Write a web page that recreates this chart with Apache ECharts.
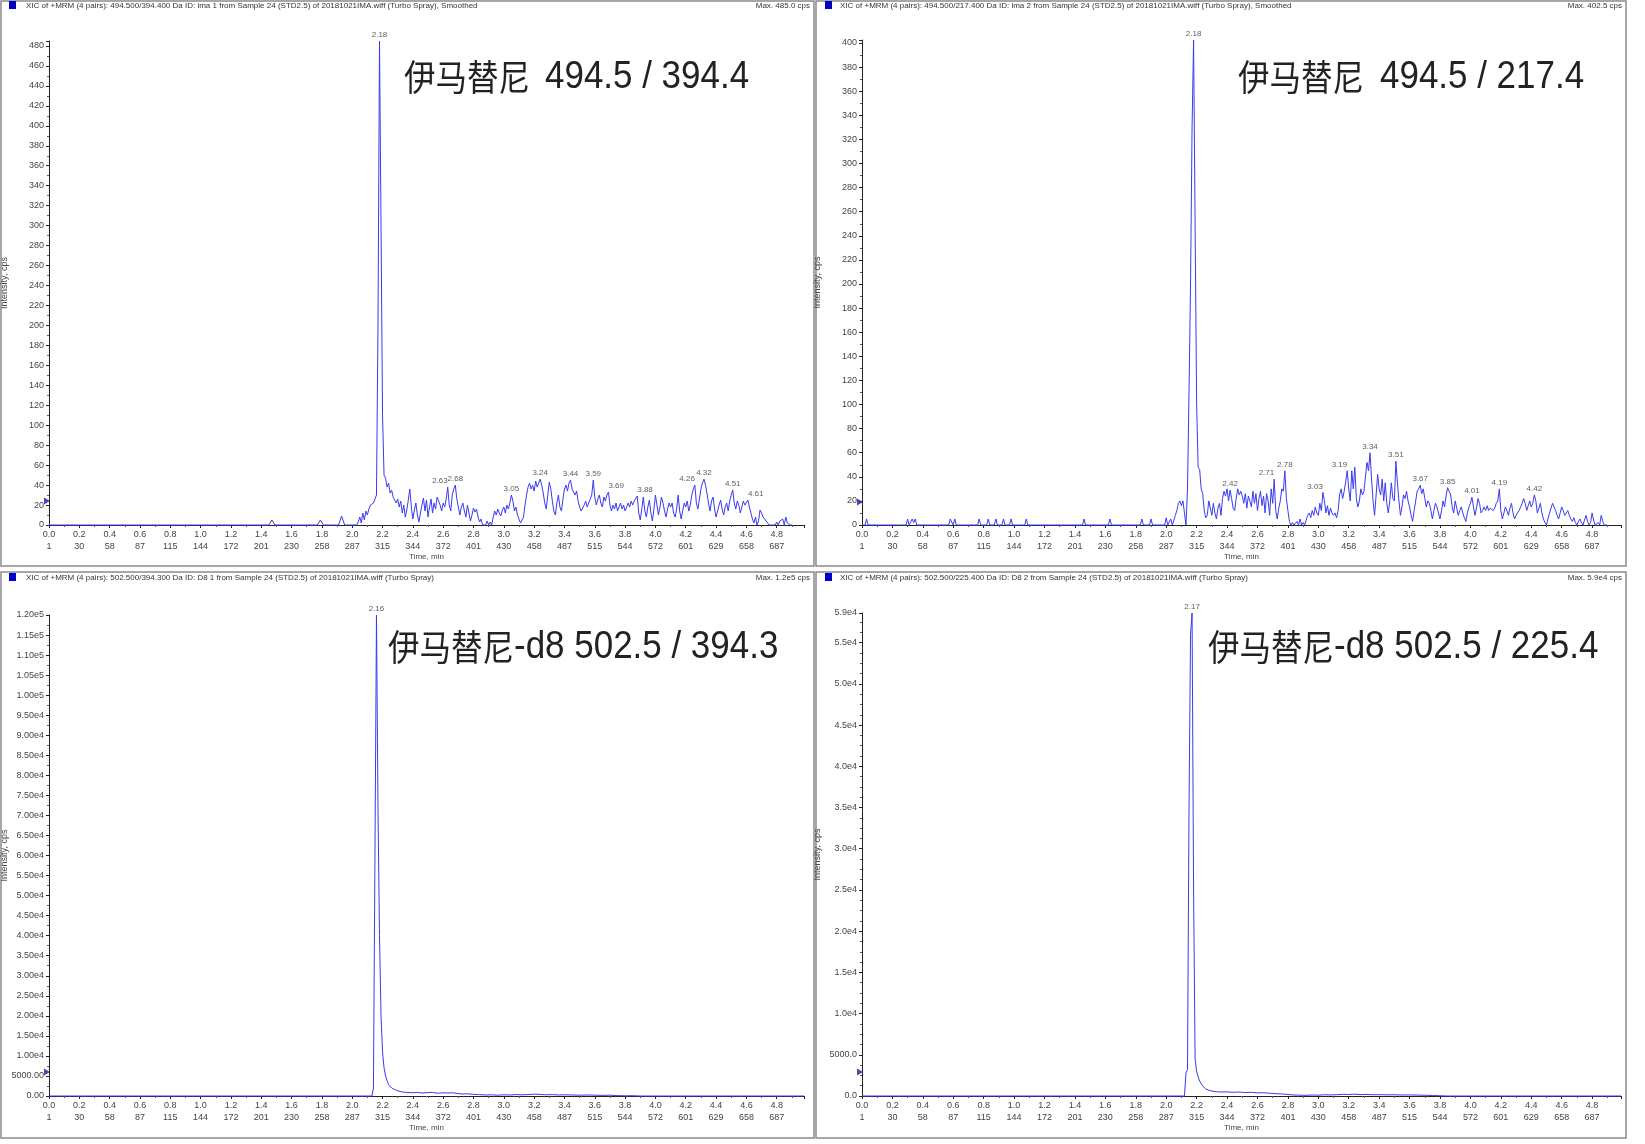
<!DOCTYPE html>
<html><head><meta charset="utf-8">
<script src="https://cdn.jsdelivr.net/npm/echarts/dist/echarts.min.js"></script>
<style>html,body{margin:0;padding:0;background:#fff}#chart{width:1645px;height:1144px}</style>
</head><body><div id="chart"></div>
<script>
// ---------- tick labels ----------
const TIME_LABELS = ['0.0','0.2','0.4','0.6','0.8','1.0','1.2','1.4','1.6','1.8','2.0','2.2','2.4','2.6','2.8','3.0','3.2','3.4','3.6','3.8','4.0','4.2','4.4','4.6','4.8'];
const CYCLE_LABELS = ['1','30','58','87','115','144','172','201','230','258','287','315','344','372','401','430','458','487','515','544','572','601','629','658','687'];

// ---------- texts ----------
const HEADERS = [
  'XIC of +MRM (4 pairs): 494.500/394.400 Da ID: ima 1 from Sample 24 (STD2.5) of 20181021IMA.wiff (Turbo Spray), Smoothed',
  'XIC of +MRM (4 pairs): 494.500/217.400 Da ID: ima 2 from Sample 24 (STD2.5) of 20181021IMA.wiff (Turbo Spray), Smoothed',
  'XIC of +MRM (4 pairs): 502.500/394.300 Da ID: D8 1 from Sample 24 (STD2.5) of 20181021IMA.wiff (Turbo Spray)',
  'XIC of +MRM (4 pairs): 502.500/225.400 Da ID: D8 2 from Sample 24 (STD2.5) of 20181021IMA.wiff (Turbo Spray)'
];
const MAX_LABELS = ['Max. 485.0 cps', 'Max. 402.5 cps', 'Max. 1.2e5 cps', 'Max. 5.9e4 cps'];
const TITLE_CJK = ['伊马替尼', '伊马替尼', '伊马替尼', '伊马替尼'];
const TITLE_REST = ['494.5 / 394.4', '494.5 / 217.4', '-d8 502.5 / 394.3', '-d8 502.5 / 225.4'];
const Y_NAME = 'Intensity, cps';
const X_NAME = 'Time, min';

// ---------- data: top-left (494.5/394.4) ----------
const TL_PRE_T = [0, 1.45, 1.47, 1.49, 1.77, 1.79, 1.81, 1.91, 1.93, 1.95, 1.99];
const TL_PRE_V = [0, 0, 5, 0, 0, 5, 0, 0, 9, 0, 0];
// 0.01-min scans from 2.00 to 4.90
const TL_FINE_V = [
  0, 0, 0, 0, 3, 8, 2, 12, 5, 14,
  10, 16, 20, 18, 22, 24, 30, 200, 485, 300,
  110, 50, 47, 38, 42, 32, 35, 28, 30, 22,
  26, 18, 24, 12, 20, 8, 15, 25, 36, 18,
  6, 15, 22, 10, 3, 12, 20, 27, 14, 25,
  8, 18, 26, 12, 22, 16, 28, 24, 20, 14,
  22, 18, 26, 38, 20, 14, 30, 36, 40, 26,
  18, 10, 18, 22, 14, 8, 20, 12, 4, 10,
  17, 13, 16, 8, 3, 6, 0, 2, 0, 4,
  0, 3, 0, 8, 14, 10, 16, 12, 9, 15,
  18, 12, 20, 16, 22, 30, 24, 14, 18, 10,
  6, 2, 0, 8, 20, 30, 38, 42, 36, 40,
  34, 44, 38, 42, 46, 40, 32, 22, 16, 30,
  43, 36, 24, 14, 10, 22, 30, 18, 14, 26,
  36, 40, 34, 42, 45, 36, 38, 30, 34, 24,
  18, 14, 16, 20, 24, 18, 22, 26, 30, 45,
  28, 20, 26, 30, 22, 18, 28, 24, 30, 33,
  20, 14, 20, 16, 22, 14, 18, 22, 16, 20,
  14, 18, 22, 18, 24, 20, 24, 26, 29, 12,
  5, 16, 28, 14, 8, 18, 25, 12, 4, 16,
  30, 20, 10, 18, 28, 22, 14, 8, 16, 22,
  18, 22, 12, 8, 16, 30, 14, 6, 14, 22,
  18, 24, 14, 20, 30, 36, 40, 22, 16, 26,
  36, 42, 46, 40, 32, 22, 14, 24, 28, 16,
  8, 14, 20, 25, 16, 10, 18, 22, 14, 24,
  30, 35, 22, 16, 24, 20, 12, 18, 24, 20,
  22, 25, 18, 12, 6, 2, 8, 0, 4, 15,
  12, 8, 10, 4, 6, 0, 2, 0, 0, 0,
  3, 0, 4, 2, 6, 0, 8, 2, 0, 0,
  0
];
const TL_PEAKS = [2.18, 2.63, 2.68, 3.05, 3.24, 3.44, 3.59, 3.69, 3.88, 4.26, 4.32, 4.51, 4.61];
const TL_MARKER = 24;

// ---------- data: top-right (494.5/217.4) ----------
const TR_PRE_T = [0, 0.02, 0.03, 0.04, 0.29, 0.30, 0.31, 0.32, 0.33, 0.34,
  0.35, 0.36, 0.57, 0.58, 0.59, 0.60, 0.61, 0.62, 0.76, 0.77,
  0.78, 0.82, 0.83, 0.84, 0.87, 0.88, 0.89, 0.92, 0.93, 0.94,
  0.97, 0.98, 0.99, 1.07, 1.08, 1.09, 1.45, 1.46, 1.47, 1.62,
  1.63, 1.64, 1.83, 1.84, 1.85, 1.89, 1.90, 1.91, 1.99];
const TR_PRE_V = [0, 0, 5, 0, 0, 5, 0, 0, 5, 2,
  5, 0, 0, 5, 5, 0, 5, 0, 0, 5,
  0, 0, 5, 0, 0, 5, 0, 0, 5, 0,
  0, 5, 0, 0, 5, 0, 0, 5, 0, 0,
  5, 0, 0, 5, 0, 0, 5, 0, 0];
const TR_FINE_V = [
  6, 0, 0, 5, 0, 0, 8, 12, 18, 20,
  16, 20, 10, 0, 30, 110, 200, 330, 402.5, 250,
  100, 48, 46, 30, 26, 12, 6, 8, 20, 14,
  8, 18, 10, 5, 14, 18, 8, 22, 28, 24,
  30, 20, 29, 22, 14, 12, 22, 30, 25, 28,
  24, 18, 26, 14, 24, 20, 15, 28, 18, 26,
  12, 22, 28, 16, 24, 10, 26, 20, 8, 30,
  18, 38, 12, 5, 14, 20, 30, 28, 45, 22,
  12, 3, 0, 2, 0, 0, 3, 0, 5, 0,
  2, 0, 4, 8, 10, 6, 12, 8, 15, 10,
  8, 18, 12, 27, 20, 10, 16, 8, 14, 10,
  8, 10, 6, 12, 25, 30, 22, 28, 36, 45,
  30, 20, 45, 30, 48, 22, 15, 20, 30, 25,
  28, 40, 52, 45, 60, 38, 20, 8, 25, 42,
  30, 25, 38, 20, 35, 18, 10, 20, 35, 22,
  20, 53, 35, 20, 8, 15, 25, 22, 28, 20,
  15, 8, 3, 12, 20, 28, 30, 33, 26, 30,
  22, 15, 20, 18, 12, 5, 12, 18, 15, 10,
  5, 12, 20, 15, 24, 31, 28, 25, 15, 10,
  20, 14, 8, 12, 15, 10, 6, 3, 10, 15,
  18, 23, 15, 8, 14, 22, 18, 10, 12, 15,
  12, 16, 12, 14, 15, 12, 14, 18, 20, 30,
  12, 5, 10, 15, 12, 8, 14, 18, 10, 5,
  8, 10, 12, 15, 18, 22, 18, 12, 16, 20,
  15, 18, 25, 20, 10, 14, 18, 10, 5, 2,
  0, 5, 10, 14, 18, 15, 12, 8, 5, 10,
  15, 12, 8, 10, 12, 8, 5, 3, 6, 2,
  0, 3, 5, 2, 0, 4, 8, 3, 0, 2,
  10, 4, 0, 0, 2, 0, 8, 3, 0, 0,
  0
];
const TR_PEAKS = [2.18, 2.42, 2.71, 2.78, 3.03, 3.19, 3.34, 3.51, 3.67, 3.85, 4.01, 4.19, 4.42];
const TR_MARKER = 19;

// ---------- data: bottom-left (d8 502.5/394.3) ----------
const BL_T = [0, 2.13, 2.14, 2.15, 2.16, 2.17, 2.18, 2.19, 2.20, 2.21,
  2.22, 2.23, 2.24, 2.26, 2.28, 2.30, 2.33, 2.36, 2.40, 2.43,
  2.46, 2.50, 2.53, 2.56, 2.60, 2.63, 2.66, 2.70, 2.73, 2.76,
  2.80, 2.84, 2.88, 2.92, 2.96, 3.00, 3.04, 3.08, 3.12, 3.16,
  3.20, 3.24, 3.28, 3.32, 3.36, 3.40, 3.45, 3.50, 3.55, 3.60,
  3.65, 3.70, 3.75, 3.80, 3.85, 3.90, 4.98];
const BL_V = [0, 0, 2000, 60000, 120000, 72000, 40000, 20000, 11000, 7000,
  5000, 3800, 2800, 2000, 1600, 1300, 1000, 900, 800, 900,
  750, 850, 900, 700, 800, 750, 800, 600, 500, 550,
  400, 350, 250, 300, 200, 300, 250, 350, 300, 350,
  450, 400, 300, 350, 250, 300, 250, 200, 250, 200,
  150, 200, 100, 50, 80, 0, 0];
const BL_PEAKS = [2.16];
const BL_MARKER = 6000;

// ---------- data: bottom-right (d8 502.5/225.4) ----------
const BR_T = [0, 2.12, 2.13, 2.14, 2.15, 2.16, 2.17, 2.18, 2.19, 2.20,
  2.21, 2.22, 2.24, 2.26, 2.28, 2.30, 2.33, 2.36, 2.40, 2.44,
  2.48, 2.52, 2.56, 2.60, 2.64, 2.68, 2.72, 2.76, 2.80, 2.84,
  2.88, 2.92, 2.96, 3.00, 3.04, 3.08, 3.12, 3.16, 3.20, 3.24,
  3.28, 3.32, 3.36, 3.40, 3.45, 3.50, 3.55, 3.60, 3.65, 3.70,
  3.75, 3.80, 3.85, 3.90, 4.57, 4.58, 4.59, 4.99];
const BR_V = [0, 0, 2800, 3200, 35000, 56000, 58600, 25000, 4500, 3000,
  2300, 1800, 1200, 850, 700, 600, 520, 480, 500, 450,
  480, 420, 450, 380, 400, 330, 280, 250, 180, 120,
  100, 80, 120, 100, 150, 130, 160, 200, 180, 220,
  170, 190, 150, 160, 140, 150, 120, 130, 110, 90,
  60, 30, 0, 0, 0, 60, 0, 0];
const BR_PEAKS = [2.17];
const BR_MARKER = 2900;

// ---------- helpers ----------
const FINE_START = 2.00, FINE_STEP = 0.01;
function withFine(preT, preV, fineV) {
  const out = preT.map((t, i) => [t, preV[i]]);
  fineV.forEach((v, i) => out.push([+(FINE_START + i * FINE_STEP).toFixed(2), v]));
  return out;
}
function pairs(ts, vs) { const n = Math.min(ts.length, vs.length); const o = []; for (let i = 0; i < n; i++) o.push([ts[i], vs[i]]); return o; }
function nearest(data, t) { let b = data[0], d = 1e9; data.forEach(p => { const dd = Math.abs(p[0] - t); if (dd < d) { d = dd; b = p; } }); return b[1]; }

const NARROW = '"Liberation Sans Narrow", "Liberation Sans", Arial, sans-serif';
const SANS = '"Liberation Sans", Arial, sans-serif';
const CJK = '"Noto Sans CJK SC", "Noto Sans CJK JP", sans-serif';
const LINE_COLOR = '#3a3af2';
const AXIS_COLOR = '#222';
const LABEL_COLOR = '#444';

const fmtInt = v => (Math.abs(v / 20 - Math.round(v / 20)) < 1e-9 ? String(Math.round(v)) : '');
const fmtBL = v => (v === 0 ? '0.00' : (v < 1e4 ? v.toFixed(2) : v.toExponential(2).replace('e+', 'e')));
const fmtBR = v => (v === 0 ? '0.0' : (v < 1e4 ? v.toFixed(1) : v.toExponential(1).replace('e+', 'e')));
const fmtX = v => {
  const i = Math.round(v / 0.2);
  if (Math.abs(v - i * 0.2) > 1e-6 || i < 0 || i >= TIME_LABELS.length) return '';
  return TIME_LABELS[i] + '\n' + CYCLE_LABELS[i];
};

const PANELS = [
  { grid: {left: 49, top: 41, width: 755, height: 484}, xMax: 4.98, yMax: 485, yInt: 20, ySplit: 2, yFmt: fmtInt,
    data: withFine(TL_PRE_T, TL_PRE_V, TL_FINE_V), peaks: TL_PEAKS, marker: TL_MARKER,
    align: {'2.63': 'right', '3.69': 'left', '3.88': 'left', '4.26': 'right', '4.61': 'left'} },
  { grid: {left: 862, top: 40, width: 759, height: 485}, xMax: 4.99, yMax: 402.5, yInt: 20, ySplit: 2, yFmt: fmtInt,
    data: withFine(TR_PRE_T, TR_PRE_V, TR_FINE_V), peaks: TR_PEAKS, marker: TR_MARKER,
    align: {'2.71': 'right', '3.03': 'right', '3.19': 'right'} },
  { grid: {left: 49, top: 615, width: 755, height: 481}, xMax: 4.98, yMax: 120000, yInt: 5000, ySplit: 2, yFmt: fmtBL,
    data: pairs(BL_T, BL_V), peaks: BL_PEAKS, marker: BL_MARKER, align: {} },
  { grid: {left: 862, top: 613, width: 759, height: 483}, xMax: 4.99, yMax: 58600, yInt: 5000, ySplit: 4, yFmt: fmtBR,
    data: pairs(BR_T, BR_V), peaks: BR_PEAKS, marker: BR_MARKER, align: {} }
];

const grids = [], xAxes = [], yAxes = [], series = [];
PANELS.forEach((p, i) => {
  grids.push(Object.assign({containLabel: false, outerBoundsMode: 'none'}, p.grid));
  xAxes.push({
    type: 'value', gridIndex: i, min: 0, max: p.xMax, interval: 0.2,
    axisLine: {onZero: false, lineStyle: {color: AXIS_COLOR, width: 1}},
    axisTick: {show: true, length: 3, lineStyle: {color: AXIS_COLOR}},
    minorTick: {show: true, splitNumber: 2, length: 2, lineStyle: {color: '#555'}},
    splitLine: {show: false},
    axisLabel: {fontSize: 9, fontFamily: NARROW, color: LABEL_COLOR, lineHeight: 12, margin: 4, formatter: fmtX},
    name: X_NAME, nameLocation: 'middle', nameGap: 28, nameMoveOverlap: false,
    nameTextStyle: {fontSize: 8, fontFamily: NARROW, color: LABEL_COLOR}
  });
  yAxes.push({
    type: 'value', gridIndex: i, min: 0, max: p.yMax, interval: p.yInt,
    axisLine: {show: true, lineStyle: {color: AXIS_COLOR, width: 1}},
    axisTick: {show: true, length: 3, lineStyle: {color: AXIS_COLOR}},
    minorTick: {show: true, splitNumber: p.ySplit, length: 2, lineStyle: {color: '#555'}},
    splitLine: {show: false},
    axisLabel: {fontSize: 9, fontFamily: NARROW, color: LABEL_COLOR, margin: 5, formatter: p.yFmt, showMaxLabel: true},
    name: Y_NAME, nameLocation: 'middle', nameGap: 40, nameMoveOverlap: false,
    nameTextStyle: {fontSize: 9, fontFamily: NARROW, color: LABEL_COLOR}
  });
  series.push({
    type: 'line', xAxisIndex: i, yAxisIndex: i, data: p.data, showSymbol: false, symbol: 'none',
    clip: false, silent: true, animation: false, lineStyle: {color: LINE_COLOR, width: 1}, z: 3
  });
  series.push({
    type: 'scatter', xAxisIndex: i, yAxisIndex: i, symbolSize: 0.1, silent: true, animation: false, clip: false,
    itemStyle: {color: 'rgba(0,0,0,0)'},
    data: p.peaks.map(t => {
      const key = t.toFixed(2);
      const al = p.align[key] || 'center';
      return {value: [t, nearest(p.data, t)],
        label: {show: true, position: 'top', distance: 2, align: al, formatter: key,
          fontSize: 8, fontFamily: NARROW, color: '#333'}};
    }), z: 4
  });
  series.push({
    type: 'scatter', xAxisIndex: i, yAxisIndex: i, symbol: 'triangle', symbolRotate: -90, symbolSize: [7, 6],
    symbolOffset: [-2, 0], clip: false, silent: true, animation: false, itemStyle: {color: '#1a1aa8'},
    data: [[0, p.marker]], z: 5
  });
});

// ---------- frame, headers and big titles ----------
const graphic = [];
const BORDERS = [[1, 1, 813, 565], [816, 1, 810, 565], [1, 572, 813, 566], [816, 572, 810, 566]];
BORDERS.forEach(b => graphic.push({type: 'rect', silent: true, z: 0,
  shape: {x: b[0], y: b[1], width: b[2], height: b[3]}, style: {fill: 'none', stroke: '#8a8a8a', lineWidth: 1.5}}));
const HEAD_POS = [[9, 1, 26, 5.5, 810], [825, 1, 840, 5.5, 1622], [9, 573, 26, 577.5, 810], [825, 573, 840, 577.5, 1622]];
HEAD_POS.forEach((h, i) => {
  graphic.push({type: 'rect', silent: true, shape: {x: h[0], y: h[1], width: 7, height: 8}, style: {fill: '#0000c8'}});
  graphic.push({type: 'text', silent: true, x: h[2], y: h[3],
    style: {text: HEADERS[i], fontSize: 8, fontFamily: SANS, fill: '#333', verticalAlign: 'middle', align: 'left'}});
  graphic.push({type: 'text', silent: true, x: h[4], y: h[3],
    style: {text: MAX_LABELS[i], fontSize: 8, fontFamily: SANS, fill: '#333', verticalAlign: 'middle', align: 'right'}});
});
const TITLE_POS = [[404, 545, 77], [1238, 1380, 77], [388, 514, 647], [1208, 1334, 647]];
TITLE_POS.forEach((t, i) => {
  graphic.push({type: 'text', silent: true, x: t[0], y: t[2], scaleX: 0.875,
    style: {text: TITLE_CJK[i], fontSize: 36, fontFamily: CJK, fill: '#222', verticalAlign: 'middle', align: 'left'}});
  graphic.push({type: 'text', silent: true, x: t[1], y: t[2] + 1, scaleX: 0.92,
    style: {text: TITLE_REST[i], fontSize: 38, fontFamily: SANS, fill: '#222', verticalAlign: 'middle', align: 'left'}});
});

const chart = echarts.init(document.getElementById('chart'), null, {renderer: 'canvas'});
chart.setOption({
  backgroundColor: '#ffffff',
  animation: false,
  grid: grids, xAxis: xAxes, yAxis: yAxes, series: series,
  graphic: graphic
});
</script>
</body></html>
